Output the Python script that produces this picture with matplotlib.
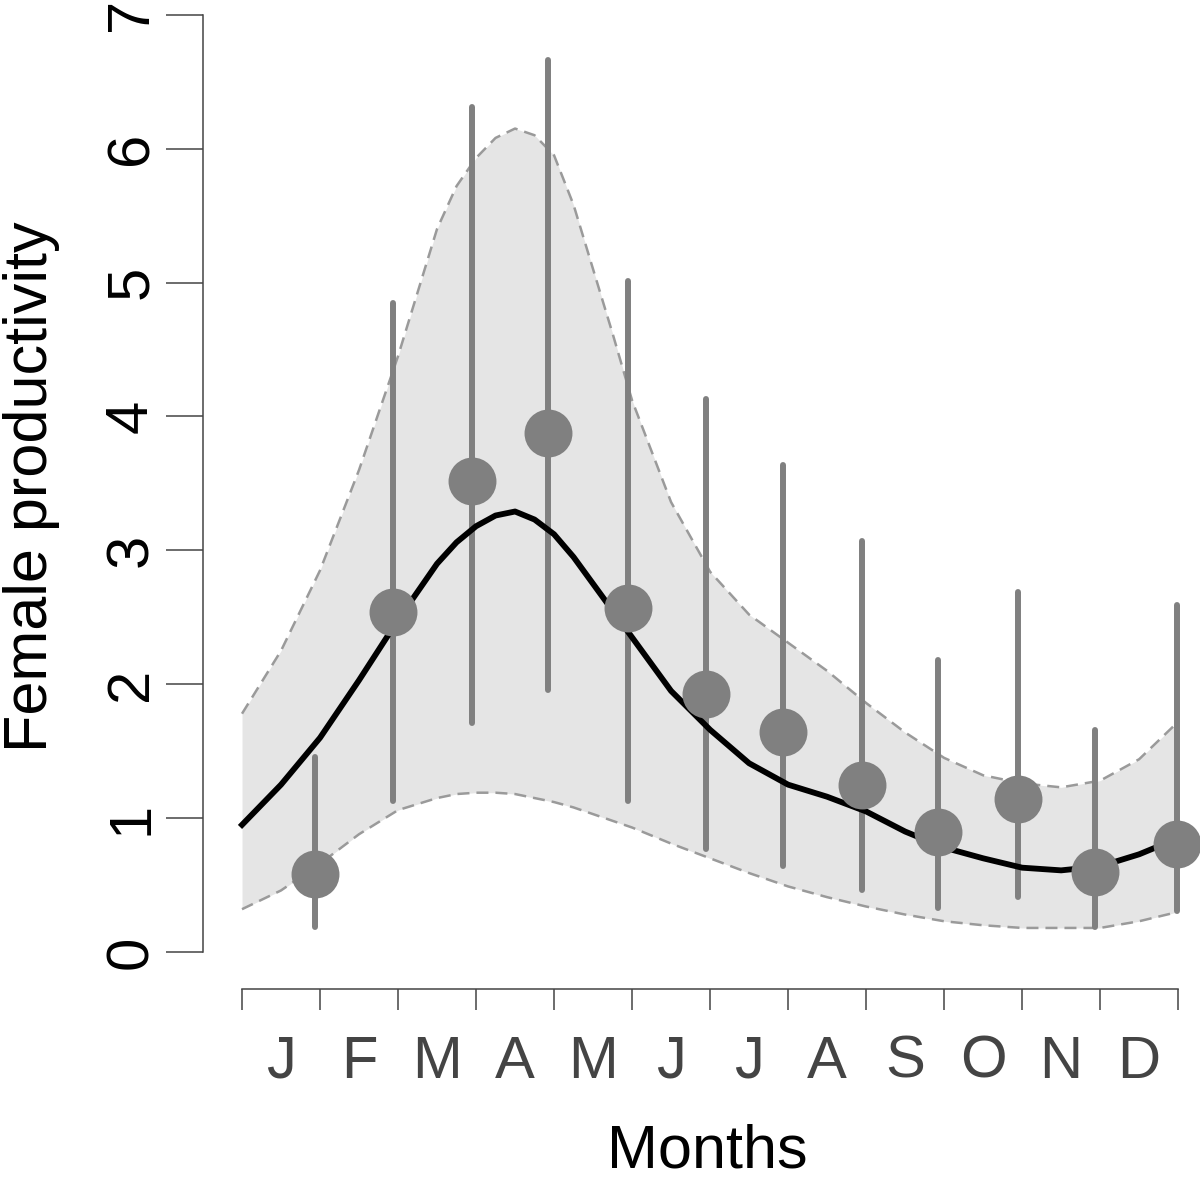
import numpy as np
import matplotlib
matplotlib.use("Agg")
import matplotlib.pyplot as plt

plt.rcParams["font.family"] = ["Liberation Sans", "DejaVu Sans"]

# fitted seasonal curve (0 = start of January)
curve_x = [0, 0.5, 1, 1.5, 2, 2.5, 2.75, 3, 3.25, 3.5, 3.75, 4, 4.25, 4.5,
           4.75, 5, 5.5, 6, 6.5, 7, 7.5, 8, 8.5, 9, 9.5, 10, 10.5, 11,
           11.5, 12]
curve_mean = [0.95, 1.25, 1.60, 2.03, 2.48, 2.90, 3.06, 3.18, 3.26, 3.29,
              3.23, 3.12, 2.95, 2.75, 2.55, 2.35, 1.95, 1.66, 1.41, 1.25,
              1.16, 1.05, 0.90, 0.78, 0.70, 0.63, 0.61, 0.64, 0.73, 0.85]
curve_upper = [1.78, 2.25, 2.85, 3.60, 4.45, 5.40, 5.72, 5.93, 6.08, 6.15,
               6.10, 5.95, 5.58, 5.10, 4.62, 4.12, 3.36, 2.84, 2.52, 2.31,
               2.10, 1.86, 1.64, 1.45, 1.32, 1.26, 1.23, 1.28, 1.44, 1.72]
curve_lower = [0.32, 0.46, 0.66, 0.88, 1.06, 1.15, 1.18, 1.19, 1.19, 1.18,
               1.15, 1.12, 1.08, 1.03, 0.98, 0.93, 0.81, 0.70, 0.59, 0.49,
               0.41, 0.34, 0.28, 0.23, 0.20, 0.18, 0.18, 0.18, 0.23, 0.30]

# monthly observations with intervals
obs_x = [0.94, 1.94, 2.95, 3.92, 4.95, 5.95, 6.94, 7.95, 8.92, 9.95, 10.94, 11.98]
obs_mean = [0.58, 2.54, 3.52, 3.88, 2.57, 1.93, 1.64, 1.25, 0.90, 1.14, 0.60, 0.81]
obs_low = [0.19, 1.13, 1.71, 1.96, 1.13, 0.77, 0.64, 0.46, 0.33, 0.41, 0.19, 0.31]
obs_high = [1.46, 4.85, 6.31, 6.66, 5.01, 4.13, 3.64, 3.07, 2.18, 2.69, 1.66, 2.59]

months = ["J", "F", "M", "A", "M", "J", "J", "A", "S", "O", "N", "D"]

W, H = 1200, 1181
fig = plt.figure(figsize=(W / 100, H / 100), dpi=100)
ax = fig.add_axes([203 / W, (H - 989) / H, 997 / W, 989 / H])

ax.fill_between(curve_x, curve_lower, curve_upper, color="#e5e5e5", lw=0)
for band in (curve_upper, curve_lower):
    ax.plot(curve_x, band, color="#9a9a9a", lw=1.8, dashes=(4.8, 2.8))

ax.vlines(obs_x, obs_low, obs_high, color="#808080", lw=4.3, capstyle="round")
ax.plot(curve_x, curve_mean, color="black", lw=4.2, solid_joinstyle="round")
ax.plot(obs_x, obs_mean, "o", color="#808080", ms=34.5, mew=0)

ax.set_xlim(-0.5, 12.28)
ax.set_ylim(-0.276, 7.11)

for side in ("top", "right"):
    ax.spines[side].set_visible(False)
ax.spines["left"].set_bounds(0, 7)
ax.spines["bottom"].set_bounds(0, 12)
for side in ("left", "bottom"):
    ax.spines[side].set_color("#444444")
    ax.spines[side].set_linewidth(1.1)

ax.set_yticks(range(8))
ax.set_yticklabels([str(i) for i in range(8)], rotation=90, va="center")
ax.tick_params(axis="y", length=26.6, width=1.1, color="#444444",
               labelsize=43, pad=5)

ax.set_xticks(range(13))
ax.set_xticklabels([])
ax.set_xticks(np.arange(0.5, 12, 1), minor=True)
ax.set_xticklabels(months, minor=True)
ax.tick_params(axis="x", which="major", length=15, width=1.1, color="#444444")
ax.tick_params(axis="x", which="minor", length=0, labelsize=43,
               labelcolor="#444444", pad=33)

fig.text(32 / W, 1 - 487 / H, "Female productivity", rotation=90,
         fontsize=44, ha="center", va="center")
fig.text(707 / W, 1 - 1168 / H, "Months", fontsize=44, ha="center",
         va="baseline")

fig.savefig("out.png", dpi=100)
